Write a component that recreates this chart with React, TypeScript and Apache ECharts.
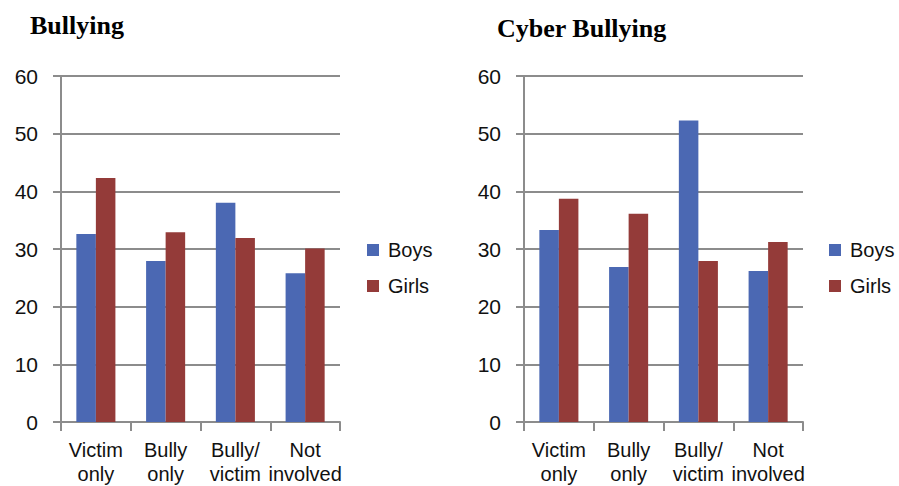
import React, { useEffect, useRef } from "react";
import * as echarts from "echarts";

const categories = ["Victim\nonly", "Bully\nonly", "Bully/\nvictim", "Not\ninvolved"];
const bullyingBoys = [32.6, 27.9, 38.0, 25.8];
const bullyingGirls = [42.3, 32.9, 31.9, 30.1];
const cyberBoys = [33.3, 26.9, 52.3, 26.2];
const cyberGirls = [38.7, 36.1, 27.9, 31.2];
const seriesNames = ["Boys", "Girls"];
const titles = ["Bullying", "Cyber Bullying"];

const BLUE = "#4b68b3";
const RED = "#943b39";
const GRID_COLOR = "#8c8c8c";
const FONT = "Liberation Sans, Arial, sans-serif";

export default function App() {
  const ref = useRef<HTMLDivElement>(null);
  useEffect(() => {
    if (!ref.current) return;
    const chart = echarts.init(ref.current, undefined, { renderer: "svg" });
    const mkX = (gridIndex: number) => ({
      type: "category" as const,
      gridIndex,
      data: categories,
      axisLine: { lineStyle: { color: GRID_COLOR, width: 2 } },
      axisTick: { show: true, length: 9, lineStyle: { color: GRID_COLOR, width: 2 } },
      axisLabel: { interval: 0, color: "#111", fontSize: 20, fontFamily: FONT, lineHeight: 24, margin: 16 },
    });
    const mkY = (gridIndex: number) => ({
      type: "value" as const,
      gridIndex,
      min: 0,
      max: 60,
      interval: 10,
      axisLine: { show: true, lineStyle: { color: GRID_COLOR, width: 2 } },
      axisTick: { show: true, length: 8, lineStyle: { color: GRID_COLOR, width: 2 } },
      splitLine: { show: true, lineStyle: { color: GRID_COLOR, width: 2 } },
      axisLabel: { color: "#111", fontSize: 21, fontFamily: FONT, margin: 23 },
    });
    const mkBar = (name: string, data: number[], color: string, idx: number) => ({
      type: "bar" as const,
      name,
      data,
      xAxisIndex: idx,
      yAxisIndex: idx,
      barGap: "0%",
      barCategoryGap: "44%",
      itemStyle: { color },
    });
    const titleStyle = {
      fontFamily: "Liberation Serif, Times New Roman, serif",
      fontWeight: "bold" as const,
      fontSize: 26,
      color: "#000",
    };
    const legendCommon = {
      data: seriesNames,
      orient: "vertical" as const,
      top: 235,
      icon: "rect",
      itemWidth: 12,
      itemHeight: 12,
      itemGap: 16,
      textStyle: { fontSize: 20, fontFamily: FONT, color: "#111", padding: [0, 0, 0, 4] },
    };
    chart.setOption({
      animation: false,
      backgroundColor: "#ffffff",
      title: [
        { text: titles[0], left: 25, top: 7, textStyle: titleStyle },
        { text: titles[1], left: 492, top: 10, textStyle: titleStyle },
      ],
      legend: [
        { ...legendCommon, left: 362 },
        { ...legendCommon, left: 824 },
      ],
      grid: [
        { left: 61, top: 76, width: 279, height: 350 },
        { left: 524, top: 76, width: 279, height: 350 },
      ],
      xAxis: [mkX(0), mkX(1)],
      yAxis: [mkY(0), mkY(1)],
      series: [
        mkBar(seriesNames[0], bullyingBoys, BLUE, 0),
        mkBar(seriesNames[1], bullyingGirls, RED, 0),
        mkBar(seriesNames[0], cyberBoys, BLUE, 1),
        mkBar(seriesNames[1], cyberGirls, RED, 1),
      ],
    });
    return () => chart.dispose();
  }, []);
  return (
    <div
      ref={ref}
      style={{ position: "fixed", left: 0, top: 0, width: 899, height: 486, background: "#fff" }}
    />
  );
}
